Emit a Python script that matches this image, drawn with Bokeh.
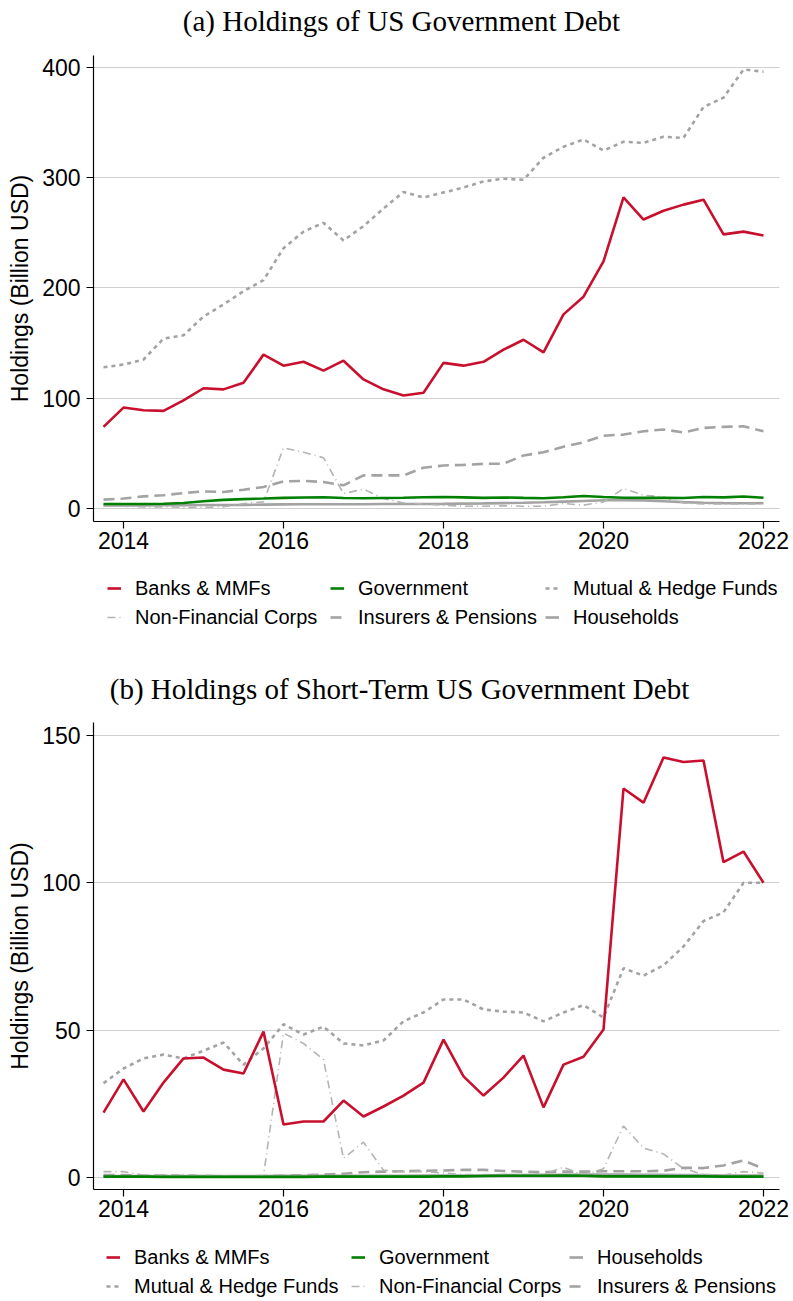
from bokeh.plotting import figure
from bokeh.models import Range1d, FixedTicker, Legend, LegendItem, ColumnDataSource
from bokeh.core.properties import value
from bokeh.layouts import column
from bokeh.embed import file_html
from bokeh.resources import INLINE

# Quarter-end dates as decimal years (2013Q4 ... 2022Q1)
quarters = [2013.75, 2014.0, 2014.25, 2014.5, 2014.75, 2015.0, 2015.25, 2015.5,
            2015.75, 2016.0, 2016.25, 2016.5, 2016.75, 2017.0, 2017.25, 2017.5,
            2017.75, 2018.0, 2018.25, 2018.5, 2018.75, 2019.0, 2019.25, 2019.5,
            2019.75, 2020.0, 2020.25, 2020.5, 2020.75, 2021.0, 2021.25, 2021.5,
            2021.75, 2022.0]

# (a) all US government debt, billion USD
banks_all = [74, 91.5, 89, 88.5, 98, 109, 108, 114, 139.5, 129.5, 133, 125, 134, 117,
             108, 102.5, 105, 132, 129.5, 133, 144, 153, 141.5, 176, 192, 224, 282,
             262, 270, 275.5, 280, 248.5, 251, 247.5]
gov_all = [4, 4, 4, 4.3, 5, 6.5, 7.8, 8.5, 9, 9.6, 10, 10.2, 9.5, 9.3, 9.5, 9.7, 10.2,
           10.4, 10.1, 9.6, 10, 9.6, 9.3, 10.2, 11.3, 10.4, 9.8, 9.6, 9.8, 9.5, 10.4,
           10.1, 10.9, 9.8]
mutual_all = [128, 130.5, 135, 154, 157, 174, 185, 197, 207, 236, 251, 259, 243, 256,
              272, 287, 282, 286.5, 291, 296.5, 299, 298, 318, 328, 334.5, 324.5, 332.5,
              331.5, 337, 336, 364, 372.5, 398, 396]
nonfin_all = [2, 2, 1.5, 1.5, 1, 1, 1.5, 4.5, 6, 55, 51, 46, 13.5, 17.5, 9, 5, 4, 3, 2,
              2, 2.5, 2, 2, 4.5, 3, 6, 18, 12, 10.5, 5, 4, 4, 4, 4]
insurers_all = [8, 9, 11, 12, 14, 15.5, 15, 17, 19.5, 24.5, 25, 24, 21, 30, 30, 30, 37,
                39, 39.5, 40.5, 40.6, 48, 51, 56, 60, 66, 67, 70, 71.6, 69, 73, 74,
                74.5, 70]
house_all = [2.8, 2.8, 2.8, 2.9, 3, 3.1, 3.2, 3.3, 3.5, 3.7, 3.8, 3.9, 3.9, 3.9, 4, 4,
             4.1, 4.2, 4.4, 4.6, 4.9, 5.2, 5.6, 6.2, 6.8, 7.4, 7.6, 7.2, 6.6, 5.8, 5.2,
             4.9, 4.8, 4.8]

# (b) short-term US government debt, billion USD
banks_st = [22, 33.3, 22.4, 32.2, 40.4, 40.7, 36.6, 35.3, 49.5, 18, 19, 19, 26.1, 20.7,
            24.1, 27.8, 32.2, 46.8, 34.3, 27.8, 33.9, 41.4, 23.8, 38.3, 41, 50.2, 132,
            127.2, 142.5, 141, 141.5, 107, 110.6, 100]
gov_st = [0.3, 0.3, 0.3, 0.2, 0.2, 0.2, 0.2, 0.2, 0.2, 0.2, 0.2, 0.3, 0.3, 0.3, 0.3,
          0.3, 0.3, 0.4, 0.4, 0.5, 0.6, 0.6, 0.6, 0.7, 0.6, 0.4, 0.4, 0.4, 0.4, 0.4,
          0.4, 0.3, 0.3, 0.3]
house_st = [0.5, 0.5, 0.5, 0.5, 0.5, 0.5, 0.5, 0.5, 0.5, 0.6, 0.6, 0.6, 0.6, 0.6, 0.6,
            0.6, 0.7, 0.7, 0.7, 0.7, 0.8, 0.8, 0.9, 0.9, 1.0, 1.0, 1.0, 0.9, 0.9, 0.8,
            0.8, 0.7, 0.7, 0.7]
mutual_st = [32, 37, 40.4, 41.7, 40.4, 43, 45.8, 38.3, 43.8, 52, 48.5, 51.2, 45.5, 44.8,
             46.5, 53, 56, 60.4, 60.4, 57, 56.3, 56, 53, 56, 58.5, 54.3, 71, 68.5, 72,
             78.4, 87, 90, 100, 100]
nonfin_st = [2, 2, 0.8, 0.8, 1, 0.7, 0.6, 0.5, 0.6, 49, 45.5, 40, 6.5, 12, 2.5, 2, 2,
             1.5, 1, 1, 1, 1, 1, 3.5, 0.8, 3, 17.5, 10, 8, 3, 1, 0.8, 2, 1.5]
insurers_st = [0.8, 0.8, 0.6, 0.7, 0.5, 0.5, 0.4, 0.4, 0.5, 0.6, 0.8, 1.0, 1.3, 1.8,
               2.0, 2.1, 2.3, 2.4, 2.6, 2.6, 2.2, 2.0, 1.8, 2.0, 2.0, 2.1, 2.1, 2.1,
               2.3, 3.3, 3.2, 4.1, 5.8, 3.0]

x_ticks = [2014, 2016, 2018, 2020, 2022]
y_ticks_all = [0, 100, 200, 300, 400]
y_ticks_st = [0, 50, 100, 150]

SANS = "Liberation Sans"
SERIF = "Liberation Serif"

# colour, width, dash for each holder group
STYLES = {
    "Banks & MMFs": ("#c8102e", 2.6, "solid"),
    "Government": ("#008000", 2.6, "solid"),
    "Mutual & Hedge Funds": ("#a3a3a3", 2.6, "4 4"),
    "Non-Financial Corps": ("#b4b4b4", 1.6, "8 4 1 4"),
    "Insurers & Pensions": ("#a3a3a3", 2.6, "11 6"),
    "Households": ("#a3a3a3", 2.6, "solid"),
}
DRAW_ORDER = ["Households", "Insurers & Pensions", "Non-Financial Corps",
              "Mutual & Hedge Funds", "Government", "Banks & MMFs"]

W = 793
FRAME_LEFT, FRAME_RIGHT = 93, 779
FRAME_W = FRAME_RIGHT - FRAME_LEFT
AXIS_BAND = 40  # room under the frame for x tick labels


def bare(height):
    # strip with the same side borders as the charts; coordinates are page
    # pixels measured from the frame's left edge and from the strip's bottom
    p = figure(width=W, height=height, output_backend="svg", toolbar_location=None,
               x_range=Range1d(0, FRAME_W), y_range=Range1d(0, height),
               x_axis_type=None, y_axis_type=None,
               min_border_left=FRAME_LEFT, min_border_right=W - FRAME_RIGHT,
               min_border_top=0, min_border_bottom=0)
    p.outline_line_color = None
    p.xgrid.visible = False
    p.ygrid.visible = False
    return p


def title_strip(text, height, center_x, center_from_top):
    p = bare(height)
    src = ColumnDataSource(dict(x=[center_x - FRAME_LEFT], y=[height - center_from_top],
                                t=[text]))
    p.text(x="x", y="y", text="t", source=src, text_font=value(SERIF),
           text_font_size="29px", text_color="black", text_align="center",
           text_baseline="middle")
    return p


def chart(series, y_ticks, y_range, frame_h):
    p = figure(width=W, height=frame_h + AXIS_BAND, output_backend="svg",
               toolbar_location=None,
               x_range=Range1d(2013.625, 2022.2), y_range=Range1d(*y_range),
               min_border_left=FRAME_LEFT, min_border_right=W - FRAME_RIGHT,
               min_border_top=0, min_border_bottom=AXIS_BAND)
    p.outline_line_color = None
    p.xgrid.visible = False
    p.ygrid.grid_line_color = "#cfcfcf"
    p.ygrid.grid_line_width = 1

    for ax in (p.xaxis[0], p.yaxis[0]):
        ax.axis_line_color = "black"
        ax.axis_line_width = 1.2
        ax.major_tick_line_color = "black"
        ax.major_tick_line_width = 1.2
        ax.major_tick_out = 7
        ax.major_tick_in = 0
        ax.minor_tick_line_color = None
        ax.major_label_text_font = SANS
        ax.major_label_text_font_size = "23px"
        ax.major_label_text_color = "black"
    p.xaxis.ticker = FixedTicker(ticks=x_ticks)
    p.yaxis.ticker = FixedTicker(ticks=y_ticks)
    p.xaxis.major_label_standoff = 3
    p.yaxis.major_label_standoff = 6
    p.yaxis.major_label_orientation = "horizontal"
    p.yaxis.axis_label = "Holdings (Billion USD)"
    p.yaxis.axis_label_text_font = SANS
    p.yaxis.axis_label_text_font_size = "23px"
    p.yaxis.axis_label_text_font_style = "normal"
    p.yaxis.axis_label_text_color = "black"
    p.yaxis.axis_label_standoff = 6

    for name in DRAW_ORDER:
        color, width, dash = STYLES[name]
        p.line(quarters, series[name], line_color=color, line_width=width,
               line_dash=dash)
    return p


def legend_strip(height, columns, xs, first_row_from_top):
    p = bare(height)
    keys = {}
    for name in DRAW_ORDER:
        color, width, dash = STYLES[name]
        # one off-canvas point per key so the legend has a glyph to draw
        keys[name] = p.line(x=[-100], y=[-100], line_color=color, line_width=width,
                            line_dash=dash)
    item_h, gap = 24, 5
    leg_h = 2 * item_h + gap
    box_top = first_row_from_top - item_h / 2
    for names, lx in zip(columns, xs):
        items = [LegendItem(label=n, renderers=[keys[n]]) for n in names]
        leg = Legend(items=items,
                     location=(lx - FRAME_LEFT, height - box_top - leg_h),
                     orientation="vertical", border_line_color=None,
                     background_fill_alpha=0, padding=0, margin=0, spacing=gap,
                     glyph_width=14, glyph_height=item_h, label_height=item_h,
                     label_standoff=14, label_text_font=SANS,
                     label_text_font_size="20px", label_text_color="black")
        p.add_layout(leg, "center")
    return p


# Panel (a): page rows 0-650, frame 55-521
title_a = title_strip("(a) Holdings of US Government Debt", 55, 401, 20)
chart_a = chart({"Banks & MMFs": banks_all, "Government": gov_all,
                 "Mutual & Hedge Funds": mutual_all, "Non-Financial Corps": nonfin_all,
                 "Insurers & Pensions": insurers_all, "Households": house_all},
                y_ticks_all, (-11.8, 410.7), 466)
legend_a = legend_strip(650 - 55 - 466 - AXIS_BAND,
                        [["Banks & MMFs", "Non-Financial Corps"],
                         ["Government", "Insurers & Pensions"],
                         ["Mutual & Hedge Funds", "Households"]],
                        [107, 330, 545], 588 - 561)

# Panel (b): page rows 650-1301, frame 722-1189
title_b = title_strip("(b) Holdings of Short-Term US Government Debt", 72, 399, 38)
chart_b = chart({"Banks & MMFs": banks_st, "Government": gov_st,
                 "Households": house_st, "Mutual & Hedge Funds": mutual_st,
                 "Non-Financial Corps": nonfin_st, "Insurers & Pensions": insurers_st},
                y_ticks_st, (-4.07, 154.4), 467)
legend_b = legend_strip(651 - 72 - 467 - AXIS_BAND,
                        [["Banks & MMFs", "Mutual & Hedge Funds"],
                         ["Government", "Non-Financial Corps"],
                         ["Households", "Insurers & Pensions"]],
                        [106, 351, 569], 1257 - 1229)

layout = column(title_a, chart_a, legend_a, title_b, chart_b, legend_b, spacing=0)
open("out.html", "w").write(file_html(layout, INLINE))
